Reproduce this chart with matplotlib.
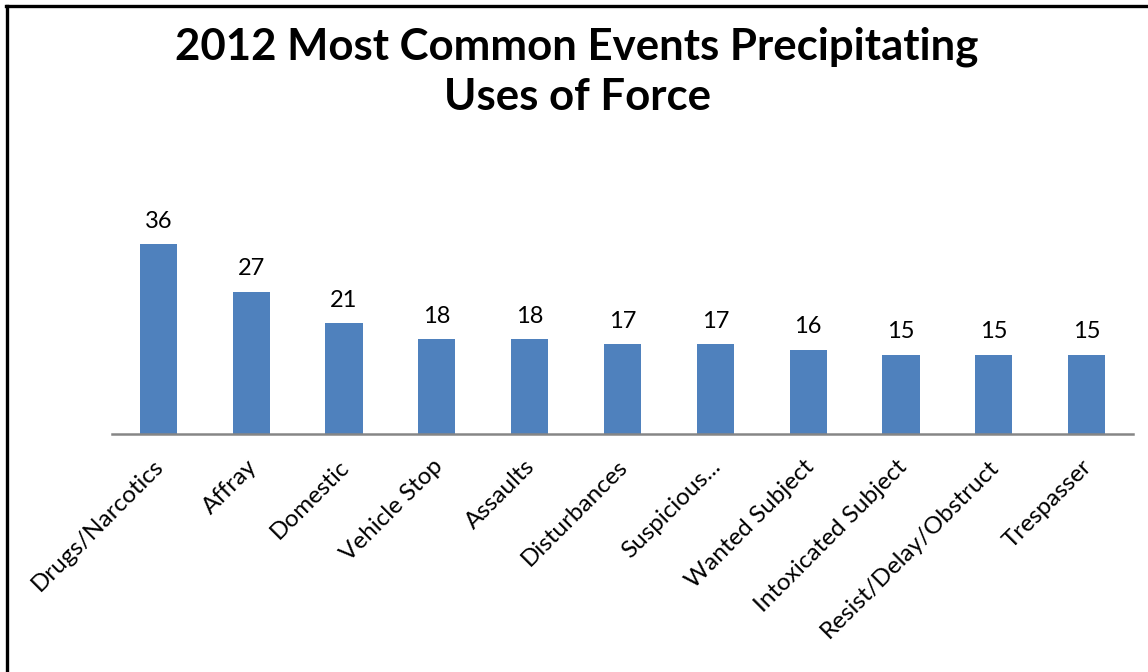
import matplotlib
matplotlib.use("Agg")
import matplotlib.pyplot as plt
from matplotlib.lines import Line2D
from matplotlib.transforms import offset_copy

categories = ["Drugs/Narcotics", "Affray", "Domestic", "Vehicle Stop", "Assaults",
              "Disturbances", "Suspicious...", "Wanted Subject", "Intoxicated Subject",
              "Resist/Delay/Obstruct", "Trespasser"]
counts = [36, 27, 21, 18, 18, 17, 17, 16, 15, 15, 15]
title = "2012 Most Common Events Precipitating\nUses of Force"

FONT = ["Lato", "DejaVu Sans"]
BAR_COLOR = "#4F81BD"

W, H, DPI = 1148, 672, 100
fig = plt.figure(figsize=(W / DPI, H / DPI), dpi=DPI)
fig.patch.set_facecolor("white")

# plot area
left, right, base, top = 112, 1133, 434, 223
ax = fig.add_axes([left / W, (H - base) / H, (right - left) / W, (base - top) / H])
x = list(range(len(categories)))
ax.bar(x, counts, width=0.4, color=BAR_COLOR, zorder=2)
ax.set_xlim(-0.5, len(categories) - 0.5)
ax.set_ylim(0, 40)

for s in ["top", "right", "left"]:
    ax.spines[s].set_visible(False)
ax.spines["bottom"].set_color("#868686")
ax.spines["bottom"].set_linewidth(1.8)
ax.set_yticks([])
ax.set_xticks(x)
ax.set_xticklabels([])
ax.tick_params(axis="x", length=0)
ax.patch.set_alpha(0)

# value labels above bars
for xi, v in zip(x, counts):
    ax.annotate(str(v), (xi, v), xytext=(0, 9), textcoords="offset points",
                ha="center", va="bottom", fontsize=17, family=FONT, color="black")

# rotated category labels
for xi, lab in zip(x, categories):
    tr = offset_copy(ax.get_xaxis_transform(), fig=fig, x=1.5, y=-21, units="points")
    ax.text(xi, 0, lab, transform=tr, rotation=45, rotation_mode="anchor",
            ha="right", va="center", fontsize=17.5, family=FONT, color="black")

# title
fig.text(577 / W, 1 - 72 / H, title, ha="center", va="center", fontsize=31.5,
         fontweight="bold", family=FONT, linespacing=1.3)

# chart frame (top and left edges)
fig.add_artist(Line2D([6 / W, 1.0], [1 - 6 / H, 1 - 6 / H], transform=fig.transFigure,
                      color="black", linewidth=2.4))
fig.add_artist(Line2D([6.5 / W, 6.5 / W], [0, 1 - 6 / H], transform=fig.transFigure,
                      color="black", linewidth=2.4))

fig.savefig("out.png", dpi=DPI, facecolor="white")
